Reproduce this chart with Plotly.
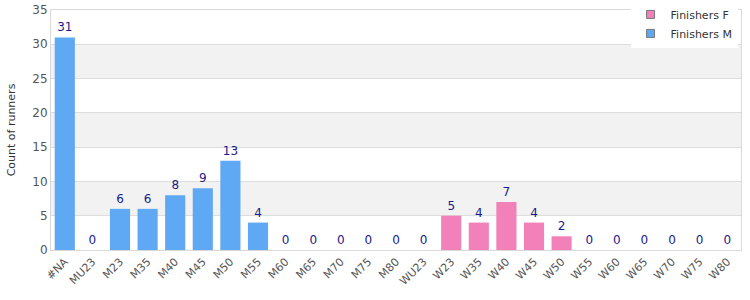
import plotly.graph_objects as go

categories = ["#NA", "MU23", "M23", "M35", "M40", "M45", "M50", "M55", "M60", "M65", "M70",
              "M75", "M80", "WU23", "W23", "W35", "W40", "W45", "W50", "W55", "W60", "W65",
              "W70", "W75", "W80"]
finishers_m = [31, 0, 6, 6, 8, 9, 13, 4, 0, 0, 0, 0, 0, 0, None, None, None, None, None,
               None, None, None, None, None, None]
finishers_f = [None] * 14 + [5, 4, 7, 4, 2, 0, 0, 0, 0, 0, 0]

BLUE = "#5fa8f4"
PINK = "#f281b9"
LABEL = "#1a1a8c"
FONT = "DejaVu Sans"

fig = go.Figure()
for name, vals, col in [("Finishers M", finishers_m, BLUE), ("Finishers F", finishers_f, PINK)]:
    fig.add_trace(go.Bar(
        x=categories, y=vals, name=name, marker=dict(color=col, line=dict(width=0)),
        text=[("" if v is None else str(v)) for v in vals], textposition="outside",
        textfont=dict(color=LABEL, size=12, family=FONT), cliponaxis=False,
        showlegend=False,
    ))
# legend entries
for name, col in [("Finishers F", PINK), ("Finishers M", BLUE)]:
    fig.add_trace(go.Scatter(x=[None], y=[None], name=name, mode="markers",
                             marker=dict(symbol="square", size=8, color=col,
                                         line=dict(color="#777777", width=1)),
                             showlegend=True))

# alternating bands
for lo in [5, 15, 25]:
    fig.add_shape(type="rect", xref="paper", yref="y", x0=0, x1=1, y0=lo, y1=lo + 5,
                  fillcolor="#f2f2f2", line=dict(width=0), layer="below")

fig.update_layout(
    width=750, height=300, barmode="overlay", bargap=0.27,
    margin=dict(l=51, r=9, t=10, b=50, autoexpand=False),
    paper_bgcolor="white", plot_bgcolor="white",
    font=dict(family=FONT, size=11, color="#444444"),
    legend=dict(x=0.995, xanchor="right", y=1.042, yanchor="top", bgcolor="white",
                font=dict(size=11, color="#333333"), traceorder="normal",
                itemwidth=30, tracegroupgap=0),
    xaxis=dict(tickangle=-45, showline=True, linecolor="#d9d9d9", mirror=True,
               tickfont=dict(size=11, color="#555555"), ticks=""),
    yaxis=dict(range=[0, 35], dtick=5, showgrid=True, gridcolor="#dddddd", showline=True,
               linecolor="#d9d9d9", mirror=True, zeroline=False,
               title=dict(text="Count of runners", font=dict(size=11, color="#333333"), standoff=14),
               tickfont=dict(size=12, color="#555555")),
)
fig.write_html("out.html")
